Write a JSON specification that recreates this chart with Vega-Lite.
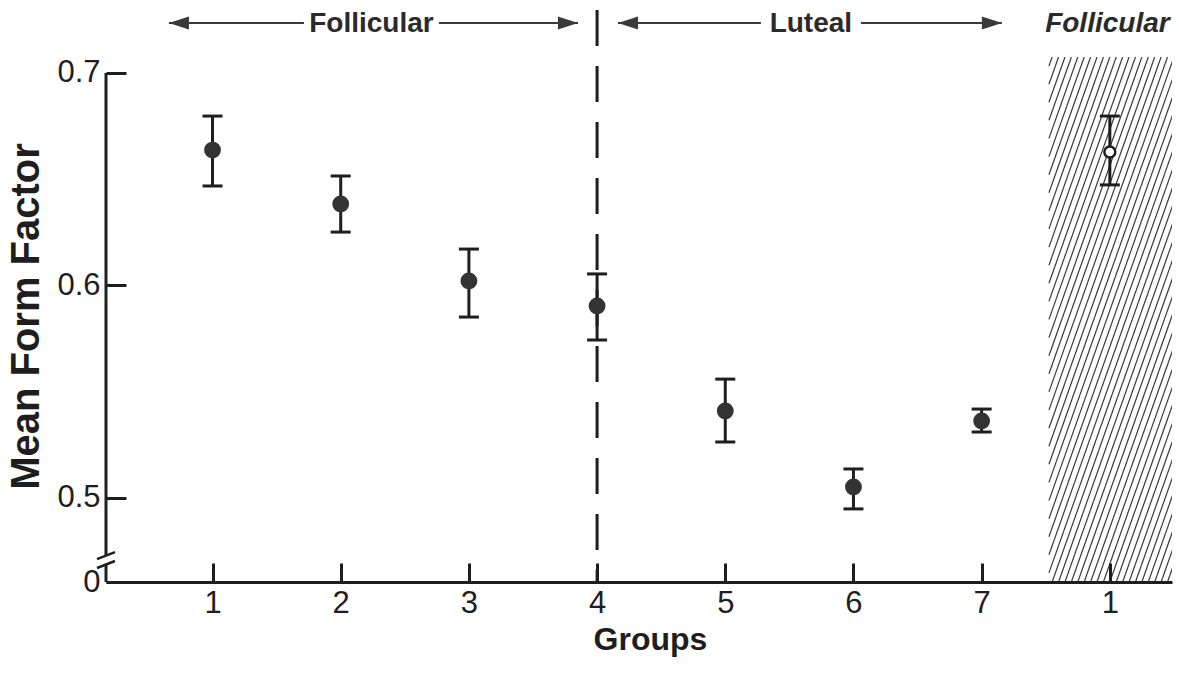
{
  "$schema": "https://vega.github.io/schema/vega-lite/v6.json",
  "width": 1066,
  "height": 525,
  "autosize": {"type": "none"},
  "padding": {"left": 106, "top": 57, "right": 7, "bottom": 93},
  "background": "white",
  "config": {"view": {"stroke": null}, "font": "Liberation Sans"},
  "datasets": {
    "points": [
      {"group": 1, "mean": 0.6637, "lo": 0.6468, "hi": 0.6797, "kind": "filled"},
      {"group": 2, "mean": 0.6383, "lo": 0.6251, "hi": 0.6515, "kind": "filled"},
      {"group": 3, "mean": 0.6021, "lo": 0.5851, "hi": 0.6171, "kind": "filled"},
      {"group": 4, "mean": 0.5903, "lo": 0.5743, "hi": 0.6054, "kind": "filled"},
      {"group": 5, "mean": 0.5409, "lo": 0.5263, "hi": 0.5559, "kind": "filled"},
      {"group": 6, "mean": 0.5051, "lo": 0.4948, "hi": 0.5136, "kind": "filled"},
      {"group": 7, "mean": 0.5362, "lo": 0.5310, "hi": 0.5418, "kind": "filled"},
      {"group": 8, "mean": 0.6628, "lo": 0.6473, "hi": 0.6797, "kind": "open"}
    ],
    "hatch": [
      {"hx": 7.525, "hy": 0.7032, "hx2": 7.55},
      {"hx": 7.525, "hy": 0.6947, "hx2": 7.60},
      {"hx": 7.525, "hy": 0.6862, "hx2": 7.65},
      {"hx": 7.525, "hy": 0.6777, "hx2": 7.70},
      {"hx": 7.525, "hy": 0.6692, "hx2": 7.75},
      {"hx": 7.525, "hy": 0.6606, "hx2": 7.80},
      {"hx": 7.525, "hy": 0.6521, "hx2": 7.85},
      {"hx": 7.525, "hy": 0.6436, "hx2": 7.90},
      {"hx": 7.525, "hy": 0.6351, "hx2": 7.95},
      {"hx": 7.525, "hy": 0.6266, "hx2": 8.00},
      {"hx": 7.525, "hy": 0.6180, "hx2": 8.05},
      {"hx": 7.525, "hy": 0.6095, "hx2": 8.10},
      {"hx": 7.525, "hy": 0.6010, "hx2": 8.15},
      {"hx": 7.525, "hy": 0.5925, "hx2": 8.20},
      {"hx": 7.525, "hy": 0.5840, "hx2": 8.25},
      {"hx": 7.525, "hy": 0.5754, "hx2": 8.30},
      {"hx": 7.525, "hy": 0.5669, "hx2": 8.35},
      {"hx": 7.525, "hy": 0.5584, "hx2": 8.40},
      {"hx": 7.525, "hy": 0.5499, "hx2": 8.45},
      {"hx": 7.525, "hy": 0.5413, "hx2": 8.50},
      {"hx": 7.525, "hy": 0.5328, "hx2": 8.55},
      {"hx": 7.525, "hy": 0.5243, "hx2": 8.60},
      {"hx": 7.525, "hy": 0.5158, "hx2": 8.65},
      {"hx": 7.525, "hy": 0.5073, "hx2": 8.70},
      {"hx": 7.525, "hy": 0.4987, "hx2": 8.75},
      {"hx": 7.525, "hy": 0.4902, "hx2": 8.80},
      {"hx": 7.525, "hy": 0.4817, "hx2": 8.85},
      {"hx": 7.525, "hy": 0.4732, "hx2": 8.90},
      {"hx": 7.525, "hy": 0.4647, "hx2": 8.95},
      {"hx": 7.55, "hy": 0.4604, "hx2": 9.00},
      {"hx": 7.60, "hy": 0.4604, "hx2": 9.05},
      {"hx": 7.65, "hy": 0.4604, "hx2": 9.10},
      {"hx": 7.70, "hy": 0.4604, "hx2": 9.15},
      {"hx": 7.75, "hy": 0.4604, "hx2": 9.20},
      {"hx": 7.80, "hy": 0.4604, "hx2": 9.25},
      {"hx": 7.85, "hy": 0.4604, "hx2": 9.30},
      {"hx": 7.90, "hy": 0.4604, "hx2": 9.35},
      {"hx": 7.95, "hy": 0.4604, "hx2": 9.40},
      {"hx": 8.00, "hy": 0.4604, "hx2": 9.45},
      {"hx": 8.05, "hy": 0.4604, "hx2": 9.50},
      {"hx": 8.10, "hy": 0.4604, "hx2": 9.55},
      {"hx": 8.15, "hy": 0.4604, "hx2": 9.60},
      {"hx": 8.20, "hy": 0.4604, "hx2": 9.65},
      {"hx": 8.25, "hy": 0.4604, "hx2": 9.70},
      {"hx": 8.30, "hy": 0.4604, "hx2": 9.75},
      {"hx": 8.35, "hy": 0.4604, "hx2": 9.80},
      {"hx": 8.40, "hy": 0.4604, "hx2": 9.85},
      {"hx": 8.45, "hy": 0.4604, "hx2": 9.90}
    ],
    "yaxisline": [
      {"y0": 0.4604, "y1": 0.4689},
      {"y0": 0.4726, "y1": 0.7}
    ],
    "breaks": [
      {"bx": 0.0988, "by": 0.4712, "bx2": 0.2392, "by2": 0.4745},
      {"bx": 0.0988, "by": 0.4670, "bx2": 0.2392, "by2": 0.4703}
    ],
    "arrowlines": [
      {"x0": 0.660, "x1": 1.713},
      {"x0": 2.766, "x1": 3.851},
      {"x0": 4.163, "x1": 5.278},
      {"x0": 6.058, "x1": 7.158}
    ],
    "arrowheads": [
      {"ax": 0.660, "dir": "left"},
      {"ax": 3.851, "dir": "right"},
      {"ax": 4.163, "dir": "left"},
      {"ax": 7.158, "dir": "right"}
    ],
    "phases": [
      {"px": 2.240, "label": "Follicular"},
      {"px": 5.668, "label": "Luteal"}
    ],
    "phaseItalic": [
      {"px": 7.981, "label": "Follicular"}
    ]
  },
  "layer": [
    {
      "data": {"name": "hatch"},
      "mark": {"type": "rule", "clip": true, "color": "#3a3a3a", "strokeWidth": 1.2},
      "encoding": {
        "x": {
          "field": "hx", "type": "quantitative",
          "scale": {"domain": [0.169, 8.485], "nice": false, "zero": false},
          "axis": {
            "title": "Groups",
            "values": [1, 2, 3, 4, 5, 6, 7, 8],
            "format": "d",
            "labelExpr": "datum.value == 8 ? '1' : datum.label",
            "grid": false,
            "domainColor": "#1e1e1e", "domainWidth": 3,
            "tickColor": "#1e1e1e", "tickWidth": 3, "tickSize": -19,
            "labelPadding": 25, "labelFontSize": 31, "labelColor": "#1e1e1e",
            "labelFont": "Liberation Sans", "labelFlush": false, "labelOverlap": false,
            "titleFont": "Liberation Sans", "titleFontSize": 32, "titleFontWeight": "bold",
            "titleColor": "#1e1e1e", "titleX": 544, "titleY": 67,
            "titleBaseline": "alphabetic", "titleAlign": "center",
            "zindex": 1
          }
        },
        "y": {
          "field": "hy", "type": "quantitative",
          "scale": {"domain": [0.4604, 0.7075], "nice": false, "zero": false},
          "axis": {
            "title": "Mean Form Factor",
            "values": [0.4604, 0.5, 0.6, 0.7],
            "format": ".1f",
            "labelExpr": "datum.value < 0.47 ? '0' : datum.label",
            "grid": false,
            "domain": false,
            "tickColor": "#1e1e1e", "tickWidth": 3, "tickSize": -20,
            "labelPadding": 26, "labelFontSize": 31, "labelColor": "#1e1e1e",
            "labelFont": "Liberation Sans", "labelFlush": false, "labelOverlap": false,
            "titleFont": "Liberation Sans", "titleFontSize": 40, "titleFontWeight": "bold",
            "titleColor": "#1e1e1e", "titleX": -68, "titleY": 259,
            "titleBaseline": "alphabetic", "titleAlign": "center", "titleAngle": 270,
            "zindex": 1
          }
        },
        "x2": {"field": "hx2"},
        "y2": {"datum": 0.7075}
      }
    },
    {
      "data": {"values": [{}]},
      "mark": {"type": "rule", "color": "#1e1e1e", "strokeWidth": 3, "strokeDash": [36, 20]},
      "encoding": {
        "x": {"datum": 4, "type": "quantitative", "title": "Groups"},
        "y": {"datum": 0.7296, "type": "quantitative", "title": "Mean Form Factor"},
        "y2": {"datum": 0.4604}
      }
    },
    {
      "data": {"name": "yaxisline"},
      "mark": {"type": "rule", "color": "#1e1e1e", "strokeWidth": 3},
      "encoding": {
        "x": {"datum": 0.169, "type": "quantitative", "title": "Groups"},
        "y": {"field": "y0", "type": "quantitative", "title": "Mean Form Factor"},
        "y2": {"field": "y1"}
      }
    },
    {
      "data": {"name": "breaks"},
      "mark": {"type": "rule", "color": "#1e1e1e", "strokeWidth": 2.5},
      "encoding": {
        "x": {"field": "bx", "type": "quantitative", "title": "Groups"},
        "y": {"field": "by", "type": "quantitative", "title": "Mean Form Factor"},
        "x2": {"field": "bx2"},
        "y2": {"field": "by2"}
      }
    },
    {
      "data": {"name": "points"},
      "mark": {"type": "rule", "color": "#1e1e1e", "strokeWidth": 3},
      "encoding": {
        "x": {"field": "group", "type": "quantitative", "title": "Groups"},
        "y": {"field": "lo", "type": "quantitative", "title": "Mean Form Factor"},
        "y2": {"field": "hi"}
      }
    },
    {
      "data": {"name": "points"},
      "mark": {"type": "tick", "orient": "horizontal", "color": "#1e1e1e", "size": 20, "thickness": 3, "opacity": 1},
      "encoding": {
        "x": {"field": "group", "type": "quantitative", "title": "Groups"},
        "y": {"field": "lo", "type": "quantitative", "title": "Mean Form Factor"}
      }
    },
    {
      "data": {"name": "points"},
      "mark": {"type": "tick", "orient": "horizontal", "color": "#1e1e1e", "size": 20, "thickness": 3, "opacity": 1},
      "encoding": {
        "x": {"field": "group", "type": "quantitative", "title": "Groups"},
        "y": {"field": "hi", "type": "quantitative", "title": "Mean Form Factor"}
      }
    },
    {
      "data": {"name": "points"},
      "transform": [{"filter": "datum.kind == 'filled'"}],
      "mark": {"type": "point", "shape": "circle", "filled": true, "color": "#333333", "size": 283, "opacity": 1},
      "encoding": {
        "x": {"field": "group", "type": "quantitative", "title": "Groups"},
        "y": {"field": "mean", "type": "quantitative", "title": "Mean Form Factor"}
      }
    },
    {
      "data": {"name": "points"},
      "transform": [{"filter": "datum.kind == 'open'"}],
      "mark": {"type": "point", "shape": "circle", "filled": false, "fill": "white", "fillOpacity": 1, "stroke": "#1e1e1e", "strokeWidth": 2.5, "size": 120, "opacity": 1},
      "encoding": {
        "x": {"field": "group", "type": "quantitative", "title": "Groups"},
        "y": {"field": "mean", "type": "quantitative", "title": "Mean Form Factor"}
      }
    },
    {
      "data": {"name": "arrowlines"},
      "mark": {"type": "rule", "color": "#3a3a3a", "strokeWidth": 2},
      "encoding": {
        "x": {"field": "x0", "type": "quantitative", "title": "Groups"},
        "x2": {"field": "x1"},
        "y": {"datum": 0.7235, "type": "quantitative", "title": "Mean Form Factor"}
      }
    },
    {
      "data": {"name": "arrowheads"},
      "mark": {"type": "point", "filled": true, "color": "#3a3a3a", "size": 64, "opacity": 1},
      "encoding": {
        "x": {"field": "ax", "type": "quantitative", "title": "Groups"},
        "y": {"datum": 0.7235, "type": "quantitative", "title": "Mean Form Factor"},
        "shape": {
          "field": "dir", "type": "nominal", "legend": null,
          "scale": {"domain": ["left", "right"], "range": ["M0,0L5,-1.6L5,1.6Z", "M0,0L-5,-1.6L-5,1.6Z"]}
        }
      }
    },
    {
      "data": {"name": "phases"},
      "mark": {"type": "text", "font": "Liberation Sans", "fontWeight": "bold", "fontSize": 28, "color": "#2a2a2a", "baseline": "middle", "align": "center"},
      "encoding": {
        "x": {"field": "px", "type": "quantitative", "title": "Groups"},
        "y": {"datum": 0.7232, "type": "quantitative", "title": "Mean Form Factor"},
        "text": {"field": "label"}
      }
    },
    {
      "data": {"name": "phaseItalic"},
      "mark": {"type": "text", "font": "Liberation Sans", "fontWeight": "bold", "fontStyle": "italic", "fontSize": 28, "color": "#2a2a2a", "baseline": "middle", "align": "center"},
      "encoding": {
        "x": {"field": "px", "type": "quantitative", "title": "Groups"},
        "y": {"datum": 0.7232, "type": "quantitative", "title": "Mean Form Factor"},
        "text": {"field": "label"}
      }
    }
  ]
}
